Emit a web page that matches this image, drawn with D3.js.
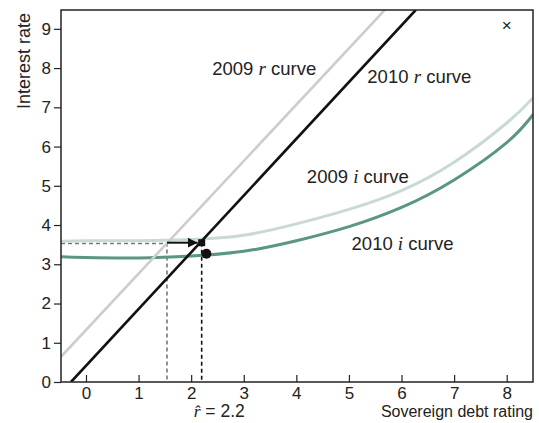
<!DOCTYPE html>
<html>
<head>
<meta charset="utf-8">
<script src="https://cdn.jsdelivr.net/npm/d3@7"></script>
<style>
  body { margin: 0; background: #fff; }
  text { font-family: "Liberation Sans", Arial, sans-serif; fill: #222; }
</style>
</head>
<body>
<div class="grafico"></div>
<script>
var margin = {top: 10, right: 6, bottom: 41, left: 61},
  width = 539 - margin.left - margin.right,
  height = 423 - margin.top - margin.bottom;

// data
const xTicks = [0, 1, 2, 3, 4, 5, 6, 7, 8];
const yTicks = [0, 1, 2, 3, 4, 5, 6, 7, 8, 9];
const r2009 = [[-0.47, 0.65], [5.68, 9.48]];
const r2010 = [[-0.285, 0], [6.27, 9.48]];
const i2009 = [[-0.475, 3.59], [0, 3.6], [1, 3.6], [2, 3.63], [3, 3.74], [4, 4.03],
  [5, 4.4], [6, 4.88], [7, 5.6], [8, 6.6], [8.5, 7.24]];
const i2010 = [[-0.475, 3.19], [0, 3.17], [1, 3.16], [2, 3.21], [3, 3.33],
  [4, 3.6], [5, 3.96], [6, 4.45], [7, 5.15], [8, 6.1], [8.5, 6.81]];
const rHat = 2.2, rOld = 1.54, iLevel = 3.55, dot = [2.29, 3.27];

let svg = d3.select(".grafico")
  .append("svg")
  .attr("width", width + margin.left + margin.right)
  .attr("height", height + margin.top + margin.bottom);

let g = svg.append("g")
  .attr("transform", "translate(" + margin.left + "," + margin.top + ")");

const x = d3.scaleLinear().domain([-0.475, 8.5]).range([0, width]);
const y = d3.scaleLinear().domain([0, 9.48]).range([height, 0]);

let defs = svg.append("defs");
defs.append("clipPath").attr("id", "clip")
  .append("rect").attr("width", width).attr("height", height);

const line = d3.line().x(d => x(d[0])).y(d => y(d[1]));
const curve = d3.line().x(d => x(d[0])).y(d => y(d[1])).curve(d3.curveNatural);

let plot = g.append("g").attr("clip-path", "url(#clip)");

// dashed guides
plot.append("path")
  .attr("d", line([[-0.475, 3.53], [rOld, 3.53], [rOld, 0]]))
  .attr("fill", "none").attr("stroke", "#777").attr("stroke-width", 1.6)
  .attr("stroke-dasharray", "4,3");
plot.append("path")
  .attr("d", line([[rHat, iLevel], [rHat, 0]]))
  .attr("fill", "none").attr("stroke", "#111").attr("stroke-width", 1.6)
  .attr("stroke-dasharray", "4,3");

plot.append("path").attr("d", curve(i2009))
  .attr("fill", "none").attr("stroke", "#c9dad3").attr("stroke-width", 3);
plot.append("path").attr("d", curve(i2010))
  .attr("fill", "none").attr("stroke", "#5b9684").attr("stroke-width", 3);
plot.append("path").attr("d", line(r2009))
  .attr("fill", "none").attr("stroke", "#cdcdcd").attr("stroke-width", 2.6);
plot.append("path").attr("d", line(r2010))
  .attr("fill", "none").attr("stroke", "#111").attr("stroke-width", 2.6);

// arrow
defs.append("marker")
  .attr("id", "arrow").attr("viewBox", "0 0 10 10")
  .attr("refX", 10).attr("refY", 5)
  .attr("markerWidth", 5).attr("markerHeight", 5)
  .attr("orient", "auto")
  .append("path").attr("d", "M0,0 L10,5 L0,10 z").attr("fill", "#111");

g.append("line")
  .attr("x1", x(rOld)).attr("y1", y(iLevel))
  .attr("x2", x(rHat) - 4).attr("y2", y(iLevel))
  .attr("stroke", "#111").attr("stroke-width", 2)
  .attr("marker-end", "url(#arrow)");

g.append("rect")
  .attr("x", x(rHat) - 3.5).attr("y", y(iLevel) - 3.5)
  .attr("width", 7).attr("height", 7).attr("fill", "#111");

g.append("circle")
  .attr("cx", x(dot[0])).attr("cy", y(dot[1])).attr("r", 5).attr("fill", "#111");

// frame and axes
g.append("rect").attr("width", width).attr("height", height)
  .attr("fill", "none").attr("stroke", "#222").attr("stroke-width", 1.5);

const xAxis = g.append("g")
  .attr("transform", "translate(0," + height + ")")
  .call(d3.axisBottom(x).tickValues(xTicks).tickSize(-7).tickPadding(5));
xAxis.select(".domain").remove();
xAxis.selectAll("line").attr("stroke", "#222").attr("stroke-width", 1.2);
xAxis.selectAll("text").attr("font-size", 17).style("font-family", "Liberation Sans, Arial, sans-serif").attr("fill", "#222");

const yAxis = g.append("g")
  .call(d3.axisLeft(y).tickValues(yTicks).tickSize(7).tickPadding(3));
yAxis.select(".domain").remove();
yAxis.selectAll("line").attr("stroke", "#222").attr("stroke-width", 1.2);
yAxis.selectAll("text").attr("font-size", 17).style("font-family", "Liberation Sans, Arial, sans-serif").attr("fill", "#222");

// labels
g.append("text")
  .attr("transform", "translate(" + (-31) + ",0) rotate(-90)")
  .attr("x", -3).attr("text-anchor", "end")
  .attr("font-size", 18).text("Interest rate");

g.append("text")
  .attr("x", width).attr("y", height + 35)
  .attr("text-anchor", "end").attr("font-size", 16)
  .text("Sovereign debt rating");

let rt = g.append("text")
  .attr("x", x(rHat) - 8).attr("y", height + 35)
  .attr("font-size", 17.5);
rt.append("tspan").style("font-family", "Liberation Serif, serif").attr("font-style", "italic").text("r\u0302");
rt.append("tspan").text(" = " + rHat);

function curveLabel(px, py, year, sym) {
  let t = g.append("text").attr("x", px).attr("y", py).attr("font-size", 18.5);
  t.append("tspan").text(year + " ");
  t.append("tspan").style("font-family", "Liberation Serif, serif")
    .attr("font-style", "italic").attr("font-size", 19).text(sym);
  t.append("tspan").text(" curve");
}
curveLabel(x(2.4), y(7.82), "2009", "r");
curveLabel(x(5.35), y(7.62), "2010", "r");
curveLabel(x(4.2), y(5.07), "2009", "i");
curveLabel(x(5.05), y(3.36), "2010", "i");

g.append("text")
  .attr("x", x(8)).attr("y", y(9.05))
  .attr("text-anchor", "middle").attr("dominant-baseline", "middle")
  .attr("font-size", 17).text("\u00d7");
</script>
</body>
</html>
